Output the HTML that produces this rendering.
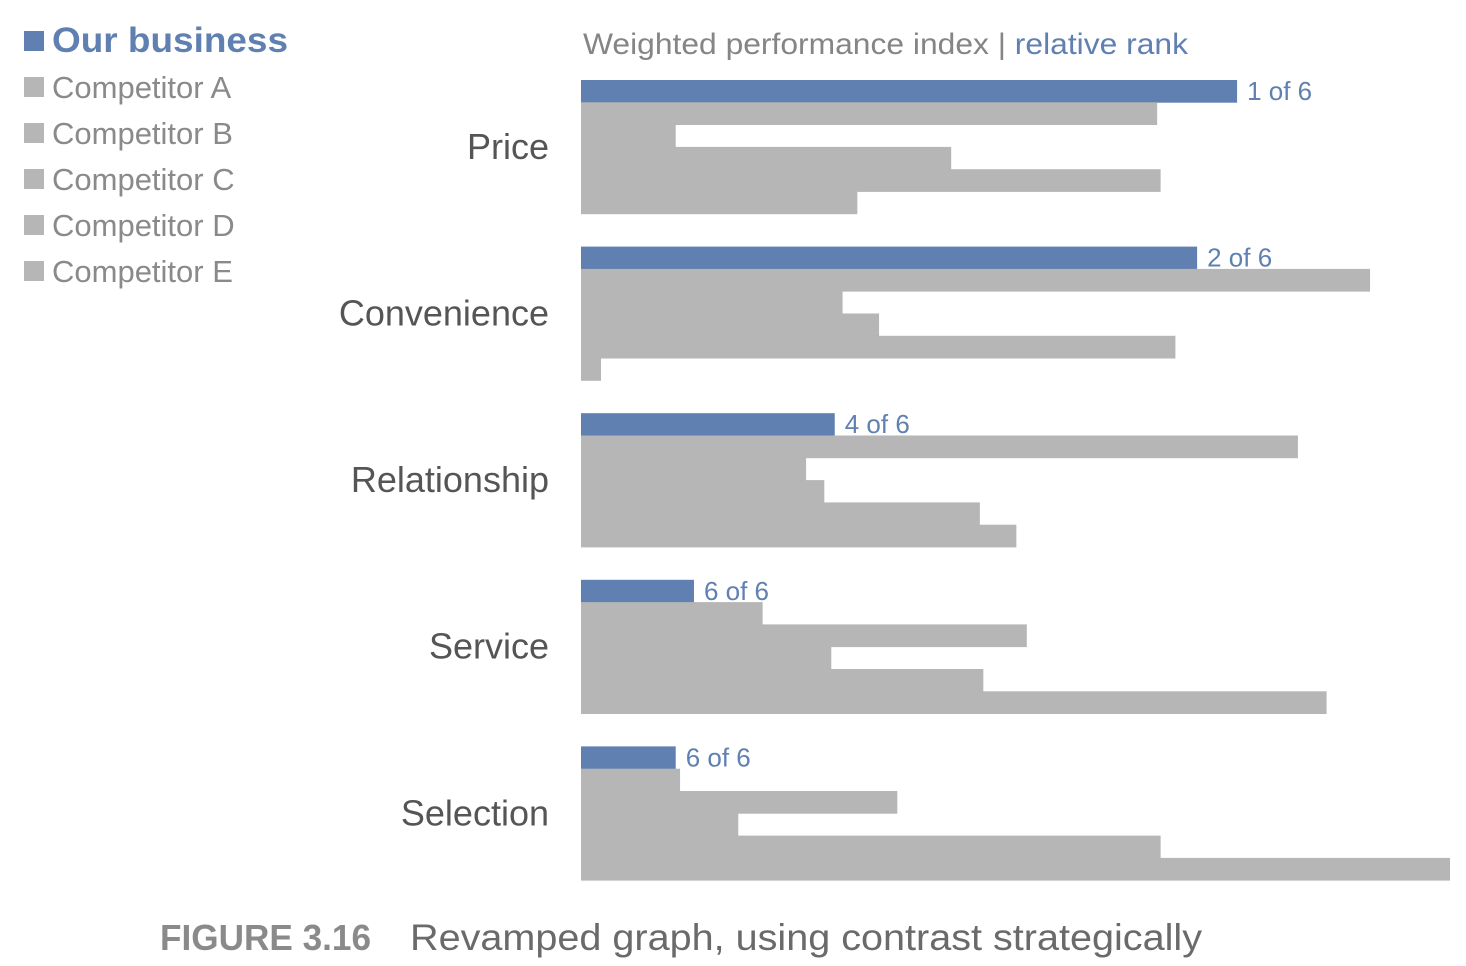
<!DOCTYPE html>
<html><head><meta charset="utf-8"><style>
html,body{margin:0;padding:0;background:#fff;width:1466px;height:966px;overflow:hidden;font-family:"Liberation Sans",sans-serif}
svg{display:block}
</style></head><body>
<svg id="chart" width="1466" height="966">
<g id="legend"></g>
<text x="583" y="54" font-size="30" fill="#858585" textLength="605" lengthAdjust="spacingAndGlyphs">Weighted performance index | <tspan fill="#5f80b0">relative rank</tspan></text>
<g id="bars"></g>
<text x="160" y="950" font-size="36" font-weight="bold" fill="#8a8a8a" textLength="211" lengthAdjust="spacingAndGlyphs">FIGURE 3.16</text>
<text x="410" y="950" font-size="37" fill="#6a6a6a" textLength="792" lengthAdjust="spacingAndGlyphs">Revamped graph, using contrast strategically</text>
</svg>
<script>
const categories = ["Price","Convenience","Relationship","Service","Selection"];
const seriesNames = ["Our business","Competitor A","Competitor B","Competitor C","Competitor D","Competitor E"];
const ourBusiness = [75.5, 70.9, 29.2, 13.0, 10.9];
const competitorA = [66.3, 90.8, 82.5, 20.9, 11.4];
const competitorB = [10.9, 30.1, 25.9, 51.3, 36.4];
const competitorC = [42.6, 34.3, 28.0, 28.8, 18.1];
const competitorD = [66.7, 68.4, 45.9, 46.3, 66.7];
const competitorE = [31.8, 2.3, 50.1, 85.8, 100];
const rankLabels = ["1 of 6","2 of 6","4 of 6","6 of 6","6 of 6"];

const NS = "http://www.w3.org/2000/svg";
const x0 = 581, xW = 869, maxV = 100;
const xScale = v => x0 + v / maxV * xW;
const groupTop = i => 80 + i * 166.6;
const barH = 22.3;
const blue = "#5f80b0", gray = "#b5b6b5";
const series = [ourBusiness, competitorA, competitorB, competitorC, competitorD, competitorE];

const legend = document.getElementById("legend");
seriesNames.forEach((n, j) => {
  const y = j === 0 ? 41 : 41 + 46 * j;
  const r = document.createElementNS(NS, "rect");
  r.setAttribute("x", 24); r.setAttribute("y", y - 10); r.setAttribute("width", 20); r.setAttribute("height", 20);
  r.setAttribute("fill", j === 0 ? blue : gray);
  
  
  legend.appendChild(r);
  const t = document.createElementNS(NS, "text");
  t.setAttribute("x", 52); t.setAttribute("y", y + 11);
  t.setAttribute("font-size", j === 0 ? 35 : 31);
  t.setAttribute("fill", j === 0 ? blue : "#8a8a8a");
  if (j === 0) { t.setAttribute("font-weight", "bold"); t.setAttribute("textLength", 236); t.setAttribute("lengthAdjust", "spacingAndGlyphs"); }
  t.textContent = n;
  
  
  legend.appendChild(t);
});

const bars = document.getElementById("bars");
categories.forEach((c, i) => {
  const top = groupTop(i);
  const lab = document.createElementNS(NS, "text");
  lab.setAttribute("x", 549); lab.setAttribute("y", top + 3 * barH + 12);
  lab.setAttribute("text-anchor", "end"); lab.setAttribute("font-size", 36); lab.setAttribute("fill", "#555");
  lab.textContent = c;
  
  
  bars.appendChild(lab);
  series.forEach((s, j) => {
    const r = document.createElementNS(NS, "rect");
    r.setAttribute("x", x0); r.setAttribute("y", top + j * barH);
    r.setAttribute("width", xScale(s[i]) - x0); r.setAttribute("height", barH + 0.4);
    r.setAttribute("fill", j === 0 ? blue : gray);
    
    
    bars.appendChild(r);
  });
  const rt = document.createElementNS(NS, "text");
  rt.setAttribute("x", xScale(ourBusiness[i]) + 10); rt.setAttribute("y", top + 20);
  rt.setAttribute("font-size", 26); rt.setAttribute("fill", blue);
  rt.textContent = rankLabels[i];
  
  
  bars.appendChild(rt);
});
</script>
</body></html>
